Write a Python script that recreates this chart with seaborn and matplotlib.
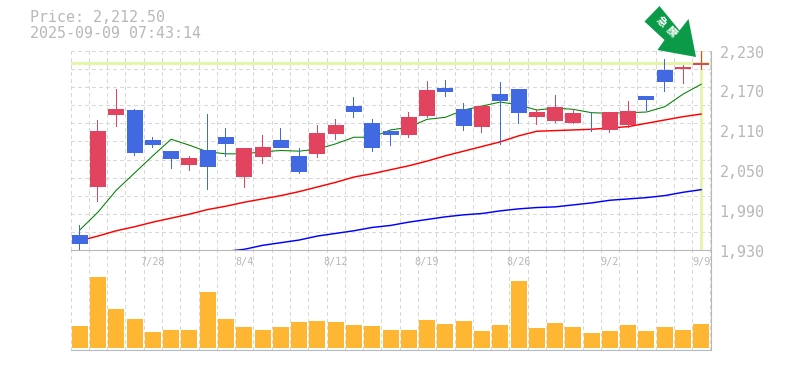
#!/usr/bin/env python3
"""Daily candlestick chart with moving averages and a volume panel."""

import numpy as np
import seaborn as sns
import matplotlib
matplotlib.use('Agg')
import matplotlib.pyplot as plt
from matplotlib.patches import Polygon

# Candles, one per trading day
open_price = [1952, 2025, 2133, 2141, 2096, 2079, 2058, 2081, 2100, 2040, 2070, 2096, 2072, 2075, 2105, 2147, 2121,
              2109, 2103, 2132, 2174, 2143, 2115, 2165, 2173, 2130, 2124, 2121, 2122, 2111, 2118, 2162, 2201, 2203, 2209.5]
close_price = [1939, 2109, 2143, 2076, 2088, 2067, 2069, 2055, 2090, 2084, 2085, 2084, 2048, 2106, 2118, 2138, 2084,
               2103, 2130, 2171, 2168, 2117, 2147, 2155, 2136, 2138, 2146, 2136, 2121, 2138, 2140, 2156, 2183, 2206, 2212.5]
high_price = [1968, 2126, 2173, 2143, 2100, 2079, 2072, 2135, 2114, 2084, 2103, 2114, 2084, 2118, 2127, 2161, 2127,
              2109, 2138, 2185, 2186, 2152, 2147, 2183, 2173, 2143, 2164, 2143, 2138, 2138, 2155, 2162, 2218, 2209, 2230]
low_price = [1930, 2002, 2115, 2072, 2084, 2052, 2049, 2020, 2070, 2023, 2060, 2084, 2045, 2069, 2096, 2129, 2078,
             2087, 2099, 2129, 2161, 2109, 2106, 2088, 2120, 2118, 2121, 2120, 2108, 2106, 2114, 2140, 2168, 2180, 2201]

# Moving averages
ma_short = [1960, 1987, 2020, 2046, 2072, 2097, 2088, 2078, 2075, 2075, 2078, 2080, 2079, 2082, 2090, 2100, 2100,
            2111, 2115, 2127, 2130, 2141, 2147, 2153, 2149, 2141, 2144, 2142, 2137, 2136, 2137, 2138, 2146, 2165, 2180]
ma_mid = [1944, 1951, 1959, 1965, 1972, 1978, 1984, 1991, 1996, 2002, 2007, 2012, 2018, 2025, 2032, 2040, 2045,
          2051, 2057, 2064, 2072, 2079, 2086, 2093, 2102, 2109, 2110, 2111, 2112, 2114, 2116, 2121, 2126, 2131, 2135]
ma_long = [np.nan] * 8 + [1928, 1931, 1937, 1941, 1945, 1951, 1955, 1959, 1964, 1967, 1972, 1976, 1980, 1983, 1985,
                          1989, 1992, 1994, 1995, 1998, 2001, 2005, 2007, 2009, 2012, 2017, 2021]

volume = [22, 71, 39, 29, 16, 18, 18, 56, 29, 21, 18, 21, 26, 27, 26, 23, 22, 18,
          18, 28, 24, 27, 17, 23, 67, 20, 25, 21, 15, 17, 23, 17, 21, 18, 24]

date_labels = ['7/28', '8/4', '8/12', '8/19', '8/26', '9/2', '9/9']
date_days = [4, 9, 14, 19, 24, 29, 34]
price_labels = ['2,230', '2,170', '2,110', '2,050', '1,990', '1,930']
price_ticks = [2230, 2170, 2110, 2050, 1990, 1930]
last_price = 2212.5

WIDTH, HEIGHT = 785, 370
UP = '#e2435f'
DOWN = '#4169e1'
GRID = '#d8d8d8'
AXIS = '#b8b8b8'
CROSS = '#e4f6a9'
MONO = 'DejaVu Sans Mono'

sns.set_theme(style='white')
plt.rcParams['font.family'] = [MONO, 'Noto Sans CJK JP']


def panel(fig, left, top, right, bottom):
    """Add axes from pixel edges measured from the top left."""
    return fig.add_axes([left / WIDTH, 1 - bottom / HEIGHT, (right - left) / WIDTH, (bottom - top) / HEIGHT])


def style_grid(ax):
    """Dashed grid between the days, solid grey on the right and bottom."""
    ax.set_xlim(-0.5, 34.5)
    ax.set_xticks(np.arange(-0.5, 35), minor=True)
    ax.grid(True, which='minor', axis='x', color=GRID, ls=(0, (6, 6)), lw=0.36, antialiased=False)
    ax.set_axisbelow(True)
    for side in ['left', 'top']:
        ax.spines[side].set_visible(False)
    for side in ['right', 'bottom']:
        ax.spines[side].set_color(AXIS)
        ax.spines[side].set_linewidth(0.8)
    ax.tick_params(which='both', length=0)


fig = plt.figure(figsize=(WIDTH / 100, HEIGHT / 100), dpi=100)
ax_vol = panel(fig, 70.5, 250, 710.5, 350)
ax = panel(fig, 70.5, 51, 710.5, 250)
ax_vol.patch.set_visible(False)
ax.patch.set_visible(False)
days = np.arange(len(close_price))

# Price panel
sns.lineplot(x=days, y=ma_short, ax=ax, color='#008000', lw=0.75, zorder=2)
sns.lineplot(x=days, y=ma_mid, ax=ax, color='#ff0000', lw=1.05, zorder=2)
sns.lineplot(x=days, y=ma_long, ax=ax, color='#0000ff', lw=1.05, zorder=2)

ax.axhline(last_price, color=CROSS, lw=2.2, zorder=1.5)
ax.axvline(days[-1], color=CROSS, lw=2.0, ymin=0.005, zorder=1.5)

# Wicks as very narrow bars so they snap to one solid pixel
for day, o, c, h, l in zip(days, open_price, close_price, high_price, low_price):
    color = UP if c >= o else DOWN
    ax.bar(day, h - l, bottom=l, width=0.06, color=color, lw=0, zorder=3)
    ax.bar(day, abs(c - o), bottom=min(o, c), width=0.875, color=color, lw=0, zorder=4)

ax.set_ylim(1930, 2230)
style_grid(ax)
ax.set_yticks([])
ax.set_yticks(np.linspace(1930, 2230, 12), minor=True)
ax.grid(True, which='minor', axis='y', color=GRID, ls=(0, (6, 6)), lw=0.36, antialiased=False)
ax.set_xticks(date_days)
ax.set_xticklabels(date_labels, fontsize=7.3, color=AXIS, family=MONO)
ax.tick_params(axis='x', which='major', pad=5)

# Price labels sit a little under their grid line
for tick, label in zip(price_ticks, price_labels):
    ax.annotate(label, xy=(1, tick), xycoords=('axes fraction', 'data'), xytext=(6.5, -1.5),
                textcoords='offset points', va='center', ha='left', fontsize=10.8, color=AXIS, family=MONO,
                annotation_clip=False)

# Volume panel
sns.barplot(x=days, y=volume, ax=ax_vol, color='#ffb733', saturation=1, width=0.875, native_scale=True, lw=0, zorder=3)
ax_vol.set_ylim(-2, 98)
ax_vol.set_yticks([])
style_grid(ax_vol)
ax_vol.set_xticks([])
ax_vol.set_xlabel('')
ax_vol.set_ylabel('')

# Header
fig.text(30 / WIDTH, 1 - 18 / HEIGHT, 'Price: 2,212.50', fontsize=10.8, color=AXIS, va='center', family=MONO)
fig.text(30 / WIDTH, 1 - 33 / HEIGHT, '2025-09-09 07:43:14', fontsize=10.8, color=AXIS, va='center', family=MONO)

# Green arrow marker above the last candle
arrow_px = [(659.5, 6), (644.5, 21.5), (664.5, 40), (657.5, 50), (696, 57), (688.5, 19), (679.5, 30.5)]
fig.add_artist(Polygon([(x / WIDTH, 1 - y / HEIGHT) for x, y in arrow_px], closed=True, transform=fig.transFigure,
                       facecolor='#0a9a48', edgecolor='none', zorder=5))
for char, cx, cy in [('急', 661, 22), ('騰', 671, 32)]:
    fig.text(cx / WIDTH, 1 - cy / HEIGHT, char, fontsize=7.5, color='white', rotation=-45, rotation_mode='anchor',
             ha='center', va='center', family='Noto Sans CJK JP', weight='bold', zorder=6)

fig.savefig('out.png', dpi=100)
